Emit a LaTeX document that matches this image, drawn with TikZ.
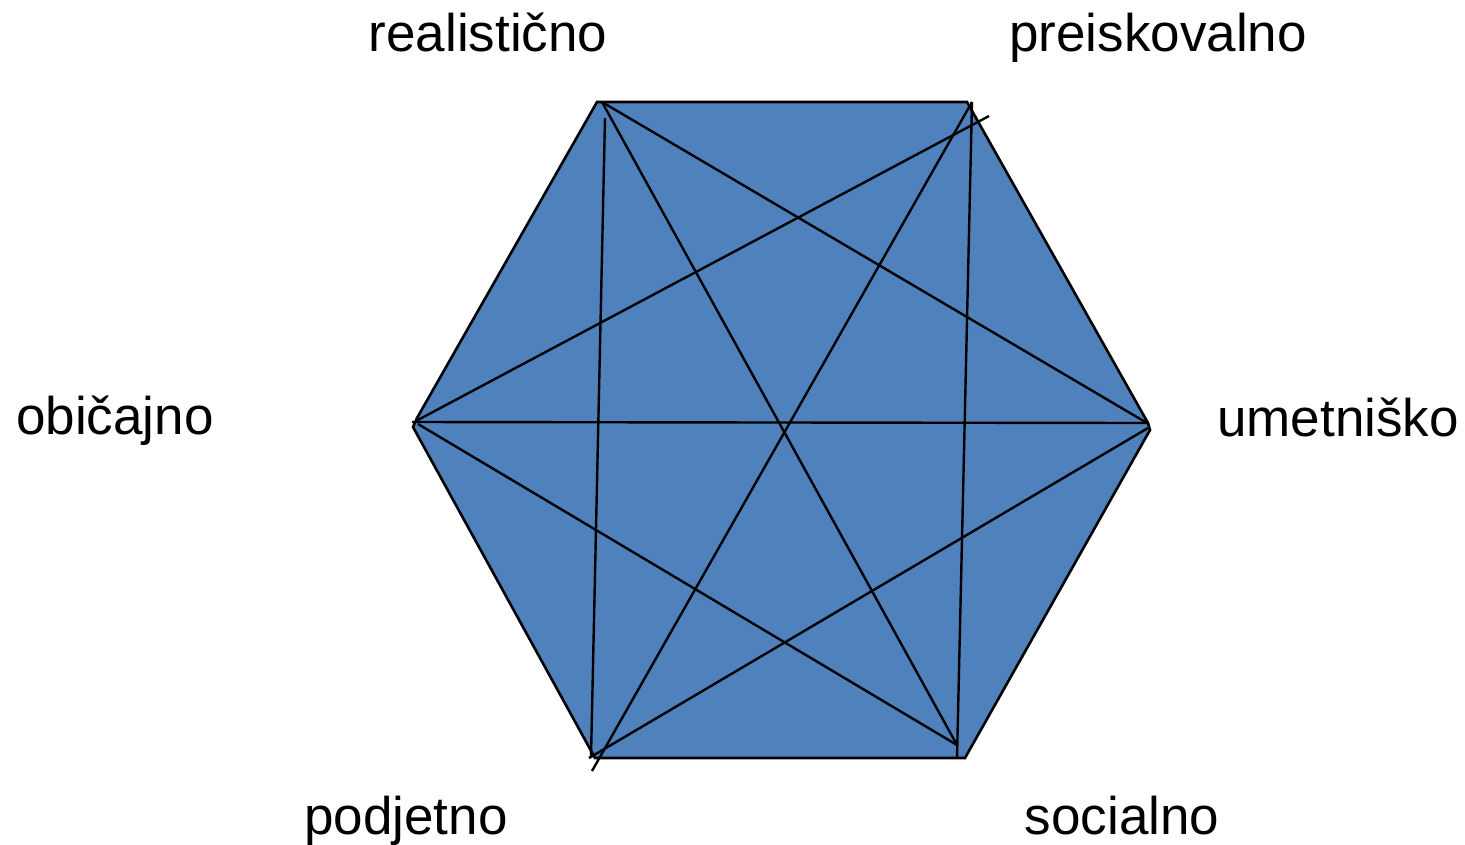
\documentclass[tikz,border=0pt]{standalone}
\usepackage{fontspec}
\setmainfont{Liberation Sans}
\definecolor{hexblue}{RGB}{79,129,189}
\begin{document}
\begin{tikzpicture}[x=1pt,y=-1pt,
  edge/.style={draw=black,line width=2.6pt,line join=miter},
  chord/.style={draw=black,line width=2.4pt},
  lbl/.style={anchor=base,inner sep=0pt,font=\fontsize{53}{60}\selectfont}]
\useasboundingbox (0,0) rectangle (1465,844);
% hexagon corners
\coordinate (H1) at (597,102);
\coordinate (H2) at (967,102);
\coordinate (H3) at (1148,423);
\coordinate (H3b) at (1150,430);
\coordinate (H4) at (965,758);
\coordinate (H5) at (595,758);
\coordinate (H6) at (413,427);
\coordinate (H6b) at (417,418);
\filldraw[edge,fill=hexblue] (H1) -- (H2) -- (H3) -- (H3b) -- (H4) -- (H5) -- (H6) -- (H6b) -- cycle;
% chord ends
\coordinate (a1) at (602,102);
\coordinate (a2) at (605,118);
\coordinate (b1) at (972,102);
\coordinate (b2) at (989,116);
\coordinate (c1) at (1147,423);
\coordinate (c2) at (1148,428);
\coordinate (d1) at (957,745);
\coordinate (d2) at (957,758);
\coordinate (e1) at (592,771);
\coordinate (e2) at (589,758);
\coordinate (e3) at (591,757);
\coordinate (f1) at (412,422);
\coordinate (f2) at (416,421);
\coordinate (f3) at (418,424);
\draw[chord] (a1) -- (c1);
\draw[chord] (a1) -- (d1);
\draw[chord] (a2) -- (e3);
\draw[chord] (b2) -- (f2);
\draw[chord] (b1) -- (e1);
\draw[chord] (b1) -- (d2);
\draw[chord] (f1) -- (H3);
\draw[chord] (f3) -- (d1);
\draw[chord] (c2) -- (e2);
% labels
\node[lbl] (real) at (488,51) {realistično};
\node[lbl] (prei) at (1158,51) {preiskovalno};
\node[lbl] (obic) at (115,434) {običajno};
\node[lbl] (umet) at (1338,436) {umetniško};
\node[lbl] (podj) at (406,834) {podjetno};
\node[lbl] (soci) at (1122,834) {socialno};
\end{tikzpicture}
\end{document}
